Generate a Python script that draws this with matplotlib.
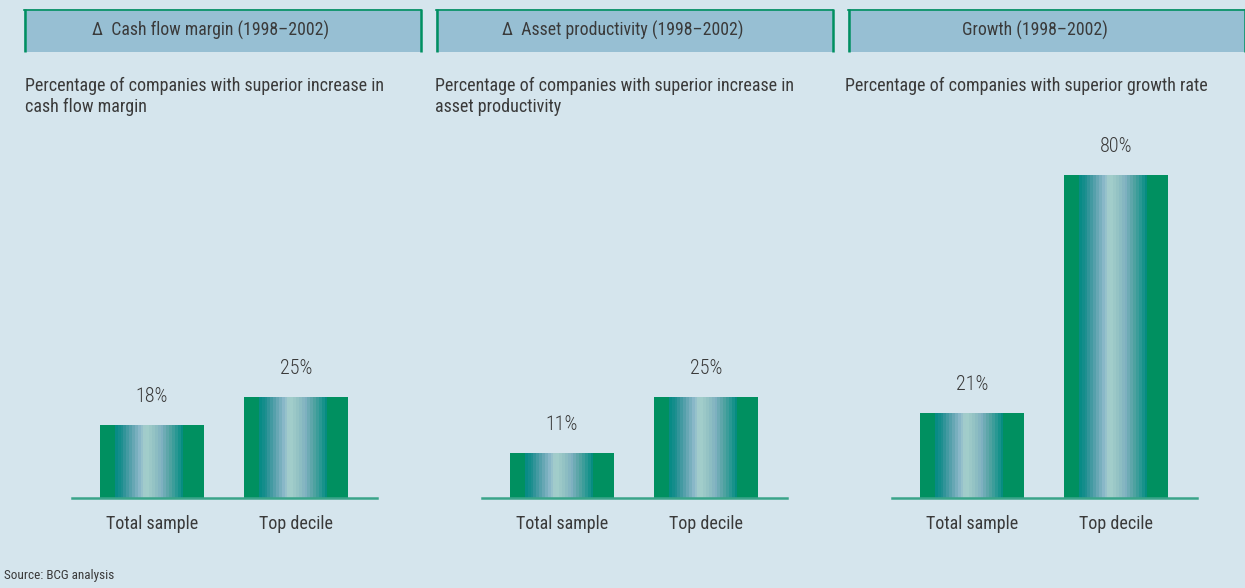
import matplotlib
matplotlib.use("Agg")
import matplotlib.pyplot as plt
from matplotlib.colors import LinearSegmentedColormap
from matplotlib.patches import Rectangle
from matplotlib.lines import Line2D
import numpy as np

# Data
headers = [
    "\u0394  Cash flow margin (1998\u20132002)",
    "\u0394  Asset productivity (1998\u20132002)",
    "Growth (1998\u20132002)",
]
subtitles = [
    "Percentage of companies with superior increase in\ncash flow margin",
    "Percentage of companies with superior increase in\nasset productivity",
    "Percentage of companies with superior growth rate",
]
categories = ["Total sample", "Top decile"]
values = [
    [18, 25],
    [11, 25],
    [21, 80],
]
source = "Source: BCG analysis"

W, H = 1245, 588
BG = "#d5e5ed"
HEADER_FILL = "#97bfd3"
GREEN = "#009060"
TEXT = "#3a3a3a"
FONT = ["Roboto Condensed", "DejaVu Sans"]

plt.rcParams["font.family"] = FONT

# striped teal/green fill across each bar
bar_cmap = LinearSegmentedColormap.from_list(
    "bar",
    [
        (0.00, GREEN),
        (0.115, GREEN),
        (0.12, "#008a82"),
        (0.20, "#1f8f90"),
        (0.30, "#5fa3b0"),
        (0.38, "#8fbacb"),
        (0.44, "#a6d0cc"),
        (0.52, "#93c3c4"),
        (0.60, "#7eb0c0"),
        (0.68, "#52a3a2"),
        (0.76, "#1f9590"),
        (0.81, "#008a7e"),
        (0.815, GREEN),
        (1.00, GREEN),
    ],
    N=36,
)
stripe = np.linspace(0, 1, 104).reshape(1, -1)

fig = plt.figure(figsize=(W / 100, H / 100), dpi=100)
fig.patch.set_facecolor(BG)


def px_rect(x0, y0, x1, y1):
    # pixel box (top-left origin) -> figure fraction [l, b, w, h]
    return [x0 / W, 1 - y1 / H, (x1 - x0) / W, (y1 - y0) / H]


header_x = [24, 436, 848]
header_w = 397
panel_x = [72, 482, 892]
baseline_y = 498
px_per_pct = 4.03

for i in range(3):
    # header box
    hx = header_x[i]
    fig.patches.append(Rectangle((hx / W, 1 - 52 / H), header_w / W, 43 / H,
                                 transform=fig.transFigure, facecolor=HEADER_FILL,
                                 edgecolor="none"))
    fig.lines.append(Line2D([hx / W, (hx + header_w) / W], [1 - 9.5 / H, 1 - 9.5 / H],
                            transform=fig.transFigure, color=GREEN, lw=1.2))
    for ex in (hx + 0.5, hx + header_w - 0.5):
        fig.lines.append(Line2D([ex / W, ex / W], [1 - 9 / H, 1 - 52 / H],
                                transform=fig.transFigure, color=GREEN, lw=1.8,
                                solid_capstyle="butt"))
    fig.text((hx + header_w / 2 - 12) / W, 1 - 30 / H, headers[i], ha="center",
             va="center", fontsize=12.8, color=TEXT)

    # subtitle, one line at a time on fixed baselines
    for k, line in enumerate(subtitles[i].split("\n")):
        fig.text((panel_x[i] - 47) / W, 1 - (91 + 21 * k) / H, line, ha="left",
                 va="baseline", fontsize=13, color=TEXT)

    # bar panel
    top = baseline_y - px_per_pct * 100
    ax = fig.add_axes(px_rect(panel_x[i], top, panel_x[i] + 305, baseline_y))
    ax.set_facecolor("none")
    width = 0.722
    for j, v in enumerate(values[i]):
        ax.imshow(stripe, cmap=bar_cmap, aspect="auto",
                  extent=[j - width / 2, j + width / 2, 0, v],
                  interpolation="nearest", zorder=2)
        ax.text(j, v + 7.2, f"{v}%", ha="center", va="center", fontsize=14.5,
                fontweight="light", color=TEXT)
    ax.set_xlim(-0.556, 1.5625)
    ax.set_ylim(0, 100)
    ax.axhline(0, color="#3aa48a", lw=1.8, zorder=3, clip_on=False)
    for s in ax.spines.values():
        s.set_visible(False)
    ax.set_yticks([])
    ax.set_xticks([0, 1])
    ax.set_xticklabels(categories, fontsize=13, color=TEXT)
    ax.tick_params(axis="x", length=0, pad=12)

fig.text(4 / W, 1 - 576 / H, source, ha="left", va="center", fontsize=9.5,
         color=TEXT)

fig.savefig("out.png", dpi=100, facecolor=BG)
